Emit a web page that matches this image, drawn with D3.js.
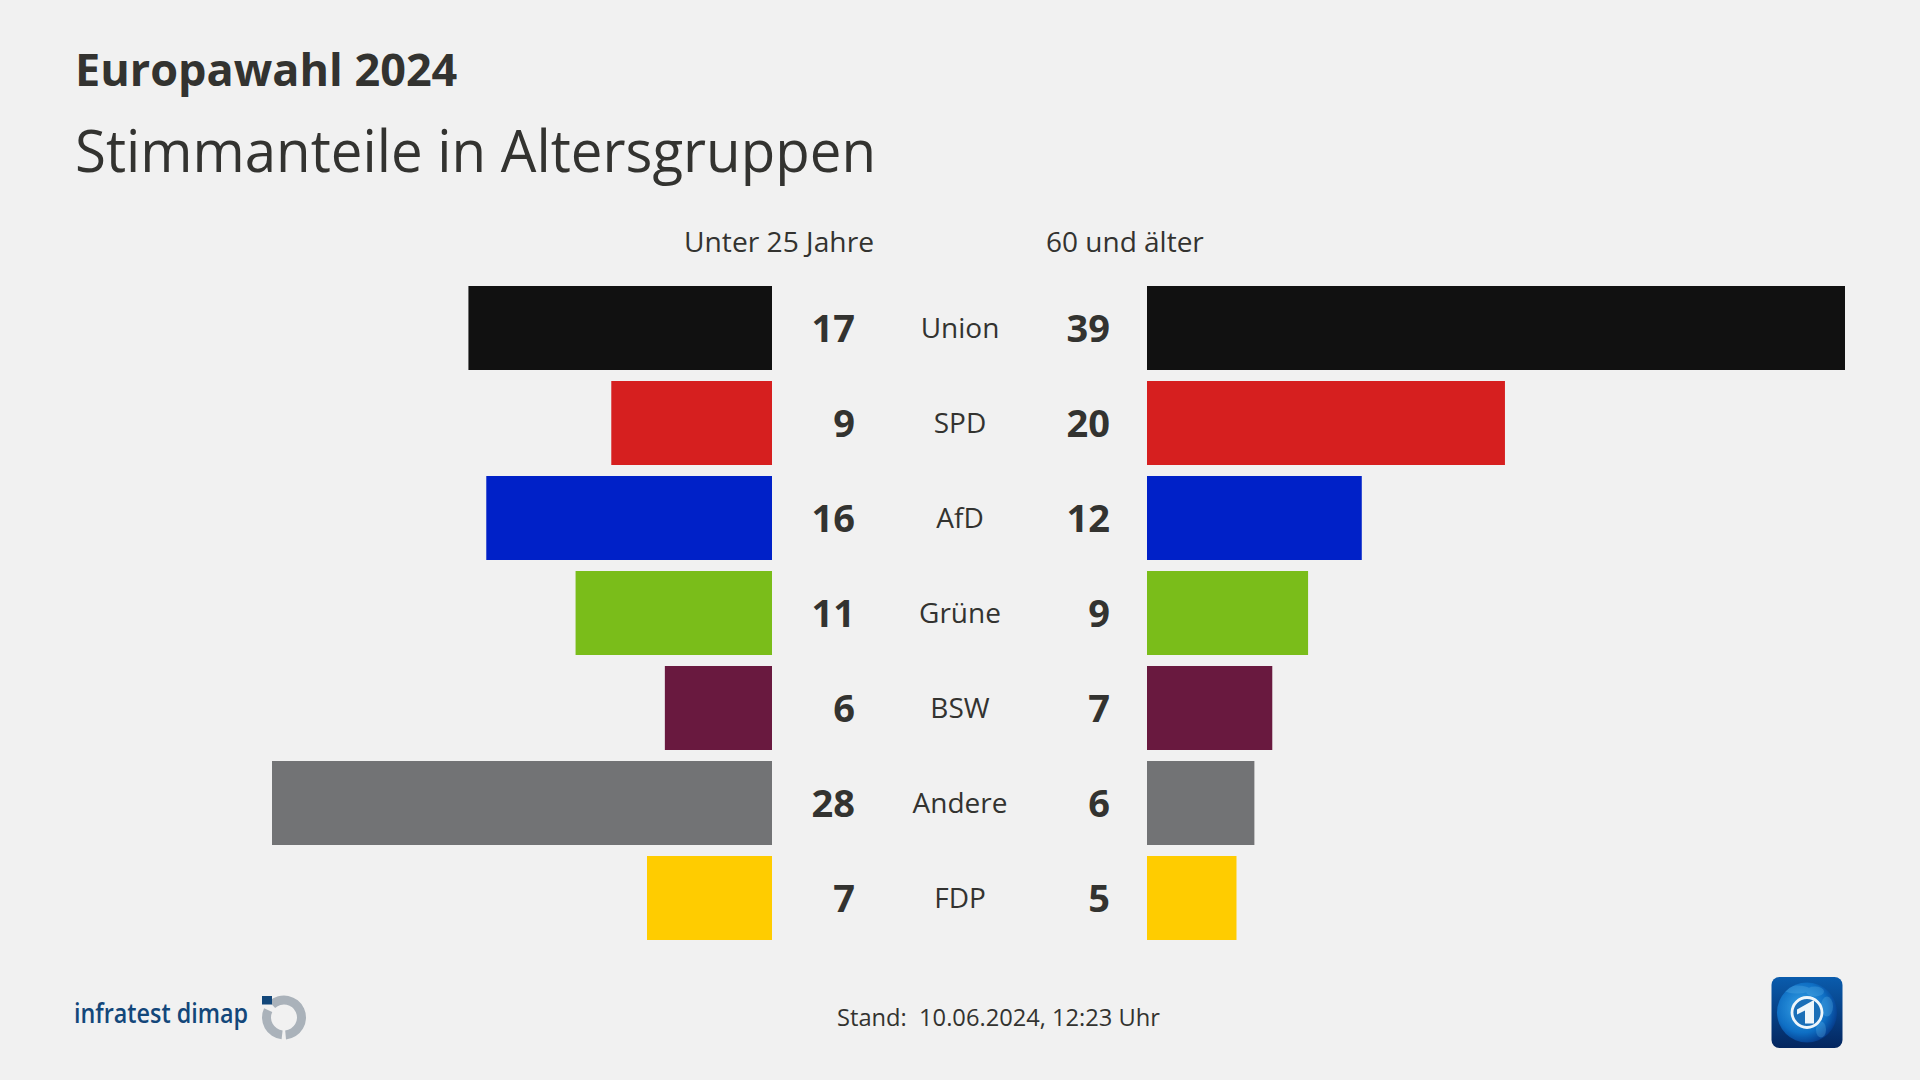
<!DOCTYPE html>
<html><head><meta charset="utf-8">
<script src="https://cdn.jsdelivr.net/npm/d3@7/dist/d3.min.js"></script>
<style>html,body{margin:0;padding:0;background:#f1f1f1;overflow:hidden}svg{display:block}text{font-family:"Open Sans",sans-serif;fill:#333330;white-space:pre}</style>
</head><body><div id="c"></div>
<script>
const parties=["Union","SPD","AfD","Grüne","BSW","Andere","FDP"];
const under25=[17,9,16,11,6,28,7];
const over60=[39,20,12,9,7,6,5];
const colors=["#111111","#d61f1f","#0021c8","#7abd1a","#69193f","#727375","#ffcc00"];
const title="Europawahl 2024", subtitle="Stimmanteile in Altersgruppen";
const leftHead="Unter 25 Jahre", rightHead="60 und älter", stand="Stand:  10.06.2024, 12:23 Uhr";

const svg=d3.select("#c").append("svg").attr("width",1920).attr("height",1080);
svg.append("rect").attr("width",1920).attr("height",1080).attr("fill","#f1f1f1");
const y=d3.scaleBand().domain(parties).range([286,940]).paddingInner(11/95).paddingOuter(0);
const xL=d3.scaleLinear().domain([0,28]).range([772,272]);
const xR=d3.scaleLinear().domain([0,39]).range([1147,1845]);

svg.append("text").attr("x",75).attr("y",86).attr("font-size",45).attr("font-weight",700).text(title);
svg.append("text").attr("x",75).attr("y",172).attr("font-size",58).attr("textLength",801).attr("lengthAdjust","spacingAndGlyphs").text(subtitle);
svg.append("text").attr("x",874).attr("y",251.5).attr("text-anchor","end").attr("font-size",28.2).text(leftHead);
svg.append("text").attr("x",1046).attr("y",251.5).attr("font-size",28).text(rightHead);

const rows=svg.selectAll("g.row").data(parties).join("g").attr("class","row");
rows.append("rect").attr("x",(d,i)=>xL(under25[i])).attr("y",d=>y(d)).attr("width",(d,i)=>xL(0)-xL(under25[i])).attr("height",y.bandwidth()).attr("fill",(d,i)=>colors[i]);
rows.append("rect").attr("x",xR(0)).attr("y",d=>y(d)).attr("width",(d,i)=>xR(over60[i])-xR(0)).attr("height",y.bandwidth()).attr("fill",(d,i)=>colors[i]);
const cy=d=>y(d)+y.bandwidth()/2;
rows.append("text").attr("x",855).attr("y",d=>cy(d)+13.5).attr("text-anchor","end").attr("font-size",38).attr("font-weight",700).text((d,i)=>under25[i]);
rows.append("text").attr("x",1110).attr("y",d=>cy(d)+13.5).attr("text-anchor","end").attr("font-size",38).attr("font-weight",700).text((d,i)=>over60[i]);
rows.append("text").attr("x",960).attr("y",d=>cy(d)+9.5).attr("text-anchor","middle").attr("font-size",28).text(d=>d);

svg.append("text").attr("x",837).attr("y",1026).attr("font-size",24).attr("textLength",323).attr("lengthAdjust","spacingAndGlyphs").text(stand);

// infratest dimap logo
svg.append("text").attr("x",74).attr("y",1023).attr("font-size",27).attr("font-weight",600).attr("textLength",174).attr("lengthAdjust","spacingAndGlyphs").style("fill","#13477a").text("infratest dimap");
const lg=svg.append("g").attr("transform","translate(284,1017.5)");
const arc=d3.arc().innerRadius(13).outerRadius(22);
lg.append("path").attr("d",arc({startAngle:-0.75,endAngle:3.05})).attr("fill","#aab2ba");
lg.append("path").attr("d",arc({startAngle:3.25,endAngle:5.15})).attr("fill","#aab2ba");
lg.append("rect").attr("x",-22).attr("y",-21.5).attr("width",10).attr("height",8.5).attr("fill","#13477a");

// tagesschau logo
const defs=svg.append("defs");
const g1=defs.append("linearGradient").attr("id","bg").attr("x1",0).attr("y1",0).attr("x2",0).attr("y2",1);
g1.append("stop").attr("offset",0).attr("stop-color","#0a5cad");
g1.append("stop").attr("offset",1).attr("stop-color","#04265f");
const g2=defs.append("radialGradient").attr("id","gl").attr("cx",0.42).attr("cy",0.42).attr("r",0.6);
g2.append("stop").attr("offset",0).attr("stop-color","#3aa5e8");
g2.append("stop").attr("offset",0.7).attr("stop-color","#0f6fc4");
g2.append("stop").attr("offset",1).attr("stop-color","#063f8f");
defs.append("clipPath").attr("id","gc").append("circle").attr("r",30);
const t=svg.append("g").attr("transform","translate(1807,1012.5)");
t.append("rect").attr("x",-35.5).attr("y",-35.5).attr("width",71).attr("height",71).attr("rx",8).attr("fill","url(#bg)");
t.append("circle").attr("r",30).attr("fill","url(#gl)");
const land=t.append("g").attr("clip-path","url(#gc)").attr("fill","#5fb4e6").attr("opacity",0.3);
land.append("ellipse").attr("cx",-10).attr("cy",-23).attr("rx",13).attr("ry",4);
land.append("ellipse").attr("cx",8).attr("cy",-21).attr("rx",9).attr("ry",5);
land.append("ellipse").attr("cx",20).attr("cy",-6).attr("rx",6).attr("ry",10);
land.append("ellipse").attr("cx",14).attr("cy",17).attr("rx",5).attr("ry",8);
t.append("circle").attr("r",15).attr("fill","#1a6fb8").attr("stroke","#eef6fb").attr("stroke-width",2.8);
t.append("path").attr("d","M-10,-3 L6,-12 L7,-12 L7,11 L-2,11 L-2,-2 L-10,2 Z").attr("fill","#eef6fb");
</script></body></html>
